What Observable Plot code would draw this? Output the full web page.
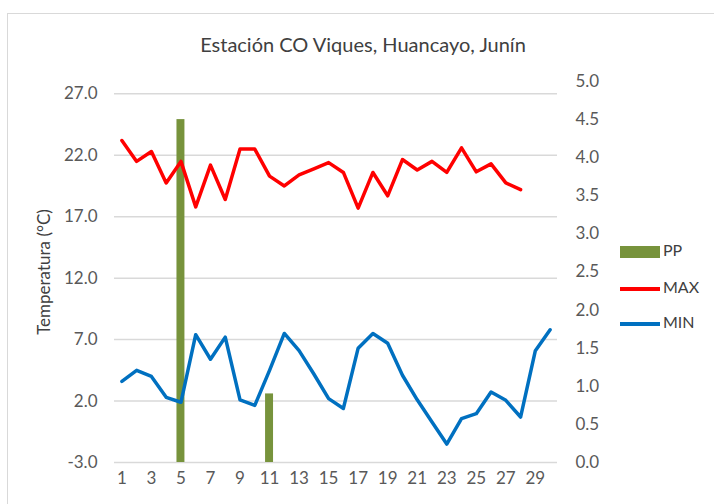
<!DOCTYPE html>
<html><head><meta charset="utf-8">
<script src="https://cdn.jsdelivr.net/npm/d3@7"></script>
<script src="https://cdn.jsdelivr.net/npm/@observablehq/plot@0.6"></script>
<style>
body{margin:0;background:#fff;}
#wrap{position:relative;width:714px;height:504px;overflow:hidden;font-family:Lato,"Open Sans",sans-serif;}
#border{position:absolute;left:7px;top:13px;width:800px;height:600px;border:1px solid #d9d9d9;box-sizing:border-box;}
#title{position:absolute;top:32px;left:0;width:726px;text-align:center;font-size:20px;color:#404040;line-height:24px;}
#chart{position:absolute;left:0;top:0;}
.leg{position:absolute;left:620px;font-size:16px;color:#404040;}
.leg span{display:inline-block;width:40px;vertical-align:middle;margin-right:3px;}
</style></head>
<body>
<div id="wrap">
<div id="border"></div>
<div id="chart"></div>
<div id="title">Estación CO Viques, Huancayo, Junín</div>
<div class="leg" style="top:240px"><span style="height:12px;background:#77933C"></span>PP</div>
<div class="leg" style="top:277px"><span style="height:3.5px;background:#FF0000"></span>MAX</div>
<div class="leg" style="top:312px"><span style="height:3.5px;background:#0070C0"></span>MIN</div>
</div>
<script>
const days = d3.range(1, 31);
const tMax = [23.2,21.5,22.3,19.75,21.5,17.8,21.2,18.4,22.5,22.5,20.3,19.5,20.4,20.9,21.4,20.6,17.7,20.6,18.7,21.65,20.8,21.5,20.6,22.6,20.65,21.3,19.75,19.2,null,null];
const tMin = [3.6,4.5,4.0,2.3,1.9,7.4,5.4,7.2,2.1,1.65,4.5,7.5,6.1,4.2,2.2,1.4,6.3,7.5,6.7,4.1,2.1,0.3,-1.5,0.57,0.97,2.74,2.06,0.7,6.1,7.8];
const pp = [0,0,0,0,4.5,0,0,0,0,0,0.9,0,0,0,0,0,0,0,0,0,0,0,0,0,0,0,0,0,0,0];
const leftTicks = [-3,2,7,12,17,22,27];
const rightTicks = [0,0.5,1,1.5,2,2.5,3,3.5,4,4.5,5];
const xTicks = [1,3,5,7,9,11,13,15,17,19,21,23,25,27,29];

const yMin = -3, yMax = 28, ppMax = 5;
const toT = v => yMin + v * (yMax - yMin) / ppMax;
const toPP = t => (t - yMin) * ppMax / (yMax - yMin);

const rows = days.map((d, i) => ({day: d, max: tMax[i], min: tMin[i], pp: pp[i]}));
const txt = {fontSize: 17, fill: "#595959"};

const plot = Plot.plot({
  width: 714, height: 504,
  marginLeft: 114, marginRight: 157, marginTop: 81, marginBottom: 42,
  style: {fontFamily: "Lato, 'Open Sans', sans-serif", background: "transparent"},
  x: {type: "linear", domain: [0.5, 30.5]},
  y: {domain: [yMin, yMax]},
  marks: [
    Plot.gridY(leftTicks, {stroke: "#d9d9d9", strokeOpacity: 1, strokeWidth: 1.5}),
    Plot.axisY({ticks: leftTicks, tickSize: 0, tickPadding: 17, tickFormat: d => d.toFixed(1), label: null, ...txt}),
    Plot.axisY({anchor: "right", ticks: rightTicks.map(toT), tickSize: 0, tickPadding: 18, tickFormat: t => toPP(t).toFixed(1), label: null, ...txt}),
    Plot.axisX({ticks: xTicks, tickSize: 0, tickPadding: 9, tickFormat: d => String(d), label: null, ...txt}),
    Plot.rectY(rows.filter(d => d.pp > 0), {x1: d => d.day - 0.5, x2: d => d.day + 0.5, y1: yMin, y2: d => toT(d.pp), fill: "#77933C", insetLeft: 3.4, insetRight: 3.4}),
    Plot.lineY(rows, {x: "day", y: "max", stroke: "#FF0000", strokeWidth: 3.5, defined: d => d.max != null}),
    Plot.lineY(rows, {x: "day", y: "min", stroke: "#0070C0", strokeWidth: 3.5}),
    Plot.text(["Temperatura (°C)"], {frameAnchor: "left", textAnchor: "middle", rotate: -90, dx: -70, dy: 0, fontSize: 17, fill: "#404040"})
  ]
});
document.getElementById("chart").appendChild(plot);
</script>
</body></html>
